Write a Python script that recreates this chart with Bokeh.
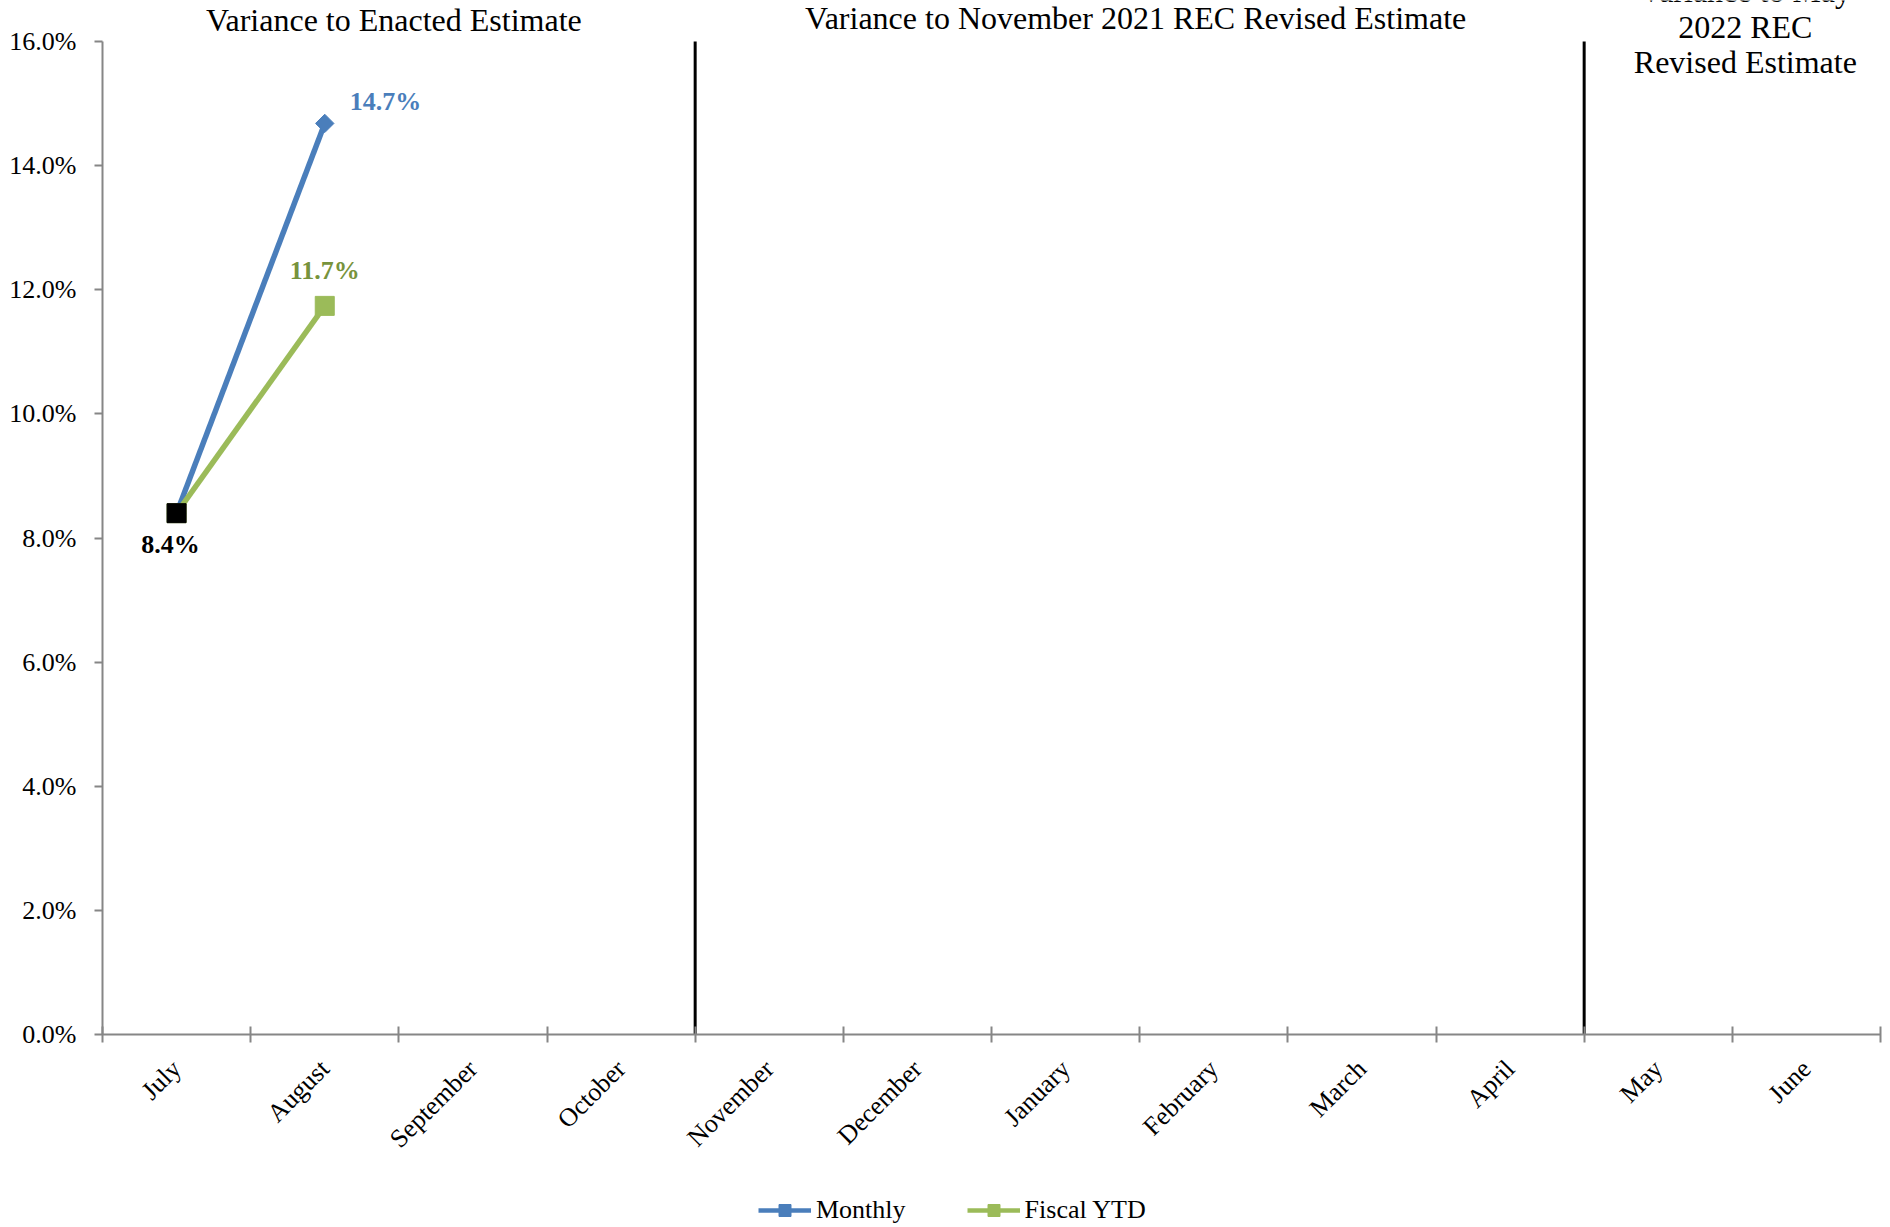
import math
from bokeh.plotting import figure
from bokeh.layouts import column
from bokeh.models import (FixedTicker, PrintfTickFormatter, Label,
                          Legend, LegendItem, Range1d)
from bokeh.embed import file_html
from bokeh.resources import INLINE

# ---------------- data ----------------
months = ["July", "August", "September", "October", "November", "December",
          "January", "February", "March", "April", "May", "June"]
monthly_months = ["July", "August"]
monthly_values = [8.4, 14.68]
ytd_months = ["July", "August"]
ytd_values = [8.4, 11.74]
y_ticks = [0, 2, 4, 6, 8, 10, 12, 14, 16]
section_starts = ["July", "November", "May"]
section_titles = [
    ["Variance to Enacted Estimate"],
    ["Variance to November 2021 REC Revised Estimate"],
    ["Variance to May", "2022 REC", "Revised Estimate"],
]
legend_labels = ["Monthly", "Fiscal YTD"]

FONT = "Liberation Serif"
BLUE = "#4A7EBB"
GREEN = "#9BBB59"
GRAY = "#868686"

FRAME_H = 1034          # frame height in px (frame reaches the top of the page)
PLOT_H = 993            # px between 0% and 16%
y_lo, y_hi = y_ticks[0], y_ticks[-1]
y_top = y_lo + (y_hi - y_lo) * FRAME_H / PLOT_H

def xpos(m):
    return months.index(m) + 0.5

p = figure(width=1890, height=1180, x_range=Range1d(0, len(months)),
           y_range=Range1d(y_lo, y_top), output_backend="svg",
           toolbar_location=None,
           min_border_left=102, min_border_right=10, min_border_top=0,
           min_border_bottom=146)
p.outline_line_color = None
p.xgrid.visible = False
p.ygrid.visible = False
p.background_fill_color = "white"
p.border_fill_color = "white"

# x axis: labels at centres, ticks at boundaries
xa = p.xaxis[0]
xa.ticker = FixedTicker(ticks=[i + 0.5 for i in range(len(months))],
                        minor_ticks=list(range(len(months) + 1)))
xa.major_label_overrides = {i + 0.5: m for i, m in enumerate(months)}
xa.major_tick_in = 0
xa.major_tick_out = 0
xa.minor_tick_in = 8
xa.minor_tick_out = 8
xa.minor_tick_line_color = GRAY
xa.minor_tick_line_width = 2
xa.axis_line_color = GRAY
xa.axis_line_width = 2
xa.major_label_orientation = math.pi / 4
xa.major_label_standoff = 22
xa.major_label_text_font = FONT
xa.major_label_text_font_size = "26px"
xa.major_label_text_color = "black"

ya = p.yaxis[0]
ya.ticker = FixedTicker(ticks=y_ticks)
ya.bounds = (y_lo, y_hi)
ya.formatter = PrintfTickFormatter(format="%.1f%%")
ya.major_tick_in = 0
ya.major_tick_out = 8
ya.major_tick_line_color = GRAY
ya.major_tick_line_width = 2
ya.minor_tick_line_color = None
ya.axis_line_color = GRAY
ya.axis_line_width = 2
ya.major_label_standoff = 18
ya.major_label_text_font = FONT
ya.major_label_text_font_size = "26px"
ya.major_label_text_color = "black"

# section separators
sep_x = [months.index(s) for s in section_starts[1:]]
p.segment(x0=sep_x, y0=[y_lo] * len(sep_x), x1=sep_x, y1=[y_hi] * len(sep_x),
          line_color="black", line_width=3)

# section titles (screen px above the frame bottom)
bounds = [months.index(s) for s in section_starts] + [len(months)]
title_y = [[1015], [1017], [1044, 1008, 973]]
title_dx = [-5, -4, 13]
for k, lines in enumerate(section_titles):
    mid = (bounds[k] + bounds[k + 1]) / 2
    for line, yy in zip(lines, title_y[k]):
        p.add_layout(Label(x=mid, y=yy, y_units="screen", x_offset=title_dx[k],
                           text=line, text_align="center", text_baseline="middle",
                           text_font=FONT, text_font_size="32px",
                           text_color="black"))

# series
mx = [xpos(m) for m in monthly_months]
yx = [xpos(m) for m in ytd_months]
p.line(mx, monthly_values, line_color=BLUE, line_width=5.5)
p.scatter(mx, monthly_values, marker="square", angle=math.pi / 4, size=13,
          color=BLUE)
p.line(yx, ytd_values, line_color=GREEN, line_width=5.5)
p.scatter(yx, ytd_values, marker="square", size=19, color=GREEN)
p.scatter([mx[0]], [monthly_values[0]], marker="square", size=19, color="black")

# data labels
p.add_layout(Label(x=mx[-1], y=monthly_values[-1], x_offset=25, y_offset=22,
                   text=f"{monthly_values[-1]:.1f}%", text_align="left",
                   text_baseline="middle", text_font=FONT, text_font_size="26px",
                   text_font_style="bold", text_color=BLUE))
p.add_layout(Label(x=yx[-1], y=ytd_values[-1], x_offset=0, y_offset=35,
                   text=f"{ytd_values[-1]:.1f}%", text_align="center",
                   text_baseline="middle", text_font=FONT, text_font_size="26px",
                   text_font_style="bold", text_color="#77933C"))
p.add_layout(Label(x=mx[0], y=monthly_values[0], x_offset=-6, y_offset=-31,
                   text=f"{monthly_values[0]:.1f}%", text_align="center",
                   text_baseline="middle", text_font=FONT, text_font_size="26px",
                   text_font_style="bold", text_color="black"))

# legend strip below the chart (its renderers hold the series but lie out of view)
lg = figure(width=1890, height=47, x_range=Range1d(0, 1), y_range=Range1d(-2, -1),
            output_backend="svg", toolbar_location=None,
            x_axis_type=None, y_axis_type=None,
            min_border_left=0, min_border_right=0, min_border_top=0,
            min_border_bottom=0)
lg.outline_line_color = None
lg.xgrid.visible = False
lg.ygrid.visible = False
lg_m_line = lg.line(mx, monthly_values, line_color=BLUE, line_width=4.5)
lg_m_pt = lg.scatter(mx, monthly_values, marker="square", angle=math.pi / 4,
                     color=BLUE)
lg_y_line = lg.line(yx, ytd_values, line_color=GREEN, line_width=4.5)
lg_y_pt = lg.scatter(yx, ytd_values, marker="square", color=GREEN)
legend = Legend(items=[LegendItem(label=legend_labels[0], renderers=[lg_m_line, lg_m_pt]),
                       LegendItem(label=legend_labels[1], renderers=[lg_y_line, lg_y_pt])],
                orientation="horizontal", location=(656, 2),
                label_text_font=FONT, label_text_font_size="26px",
                label_text_color="black", glyph_width=53, glyph_height=30,
                label_standoff=5, spacing=61, border_line_color=None,
                background_fill_alpha=0, padding=4, margin=0)
lg.add_layout(legend, "center")

layout = column(p, lg, spacing=0)
open("out.html", "w").write(file_html(layout, INLINE))
